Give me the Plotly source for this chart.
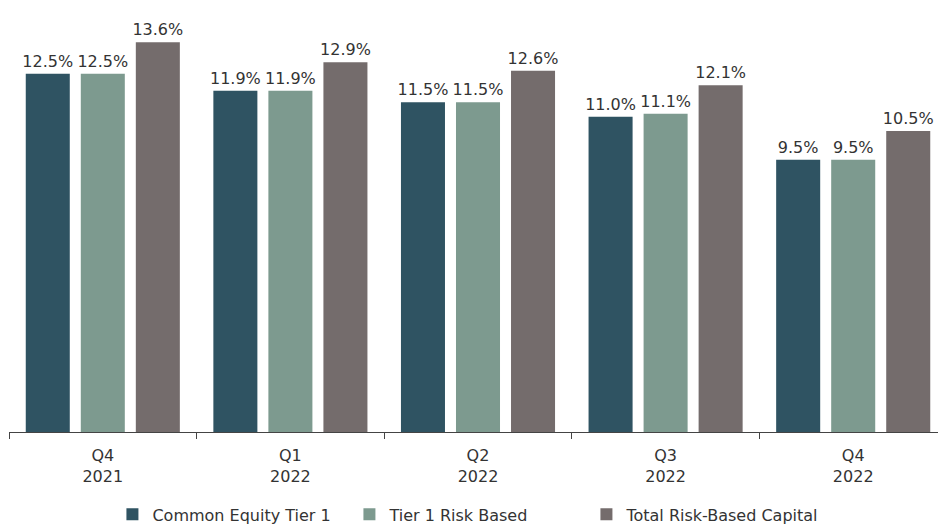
import plotly.graph_objects as go

categories = ["Q4<br>2021", "Q1<br>2022", "Q2<br>2022", "Q3<br>2022", "Q4<br>2022"]
cet1 = [12.5, 11.9, 11.5, 11.0, 9.5]
tier1 = [12.5, 11.9, 11.5, 11.1, 9.5]
total = [13.6, 12.9, 12.6, 12.1, 10.5]

series = [
    ("Common Equity Tier 1", cet1, "#2f5362"),
    ("Tier 1 Risk Based", tier1, "#7d9a8f"),
    ("Total Risk-Based Capital", total, "#746c6c"),
]

FONT = "DejaVu Sans"

fig = go.Figure()
for name, vals, color in series:
    fig.add_trace(go.Bar(
        x=categories, y=vals, name=name,
        marker=dict(color=color, line=dict(width=0)),
        text=[f"{v:.1f}%" for v in vals],
        textposition="outside",
        constraintext="none",
        textfont=dict(size=16, color="#333333", family=FONT),
        cliponaxis=False,
    ))

fig.update_layout(
    width=938, height=526,
    margin=dict(l=9, r=0, t=2, b=94, autoexpand=False),
    paper_bgcolor="white", plot_bgcolor="white",
    font=dict(family=FONT, color="#333333"),
    barmode="group", bargap=0.12, bargroupgap=0.2,
    showlegend=True,
    legend=dict(orientation="h", x=0.494, xanchor="center", y=-0.152, yanchor="top",
                font=dict(size=16, color="#333333", family=FONT), itemwidth=30,
                entrywidth=192, entrywidthmode="pixels",
                traceorder="normal"),
    xaxis=dict(
        range=[-0.5, 4.452],
        showline=True, linecolor="#444444", linewidth=1.2,
        ticks="outside", tickson="boundaries", ticklen=6, tickcolor="#444444",
        tickfont=dict(size=16, color="#333333", family=FONT),
        ticklabelstandoff=9,
        showgrid=False, fixedrange=True,
    ),
    yaxis=dict(range=[0, 15], visible=False, showgrid=False),
)

fig.write_html("out.html", config={"displayModeBar": False},
               post_script="document.body.style.margin='0';document.body.style.overflow='hidden';")
